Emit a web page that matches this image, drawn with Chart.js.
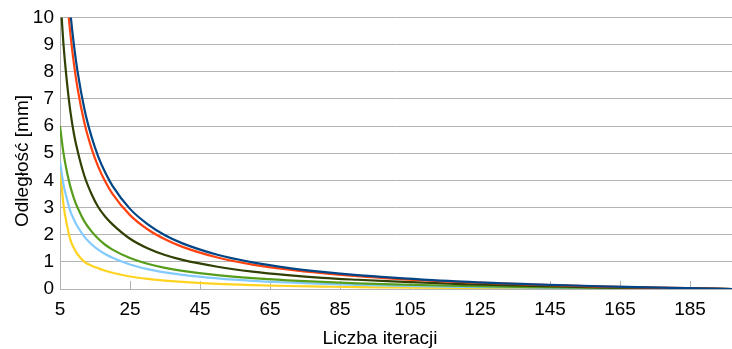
<!DOCTYPE html>
<html>
<head>
<meta charset="utf-8">
<script src="https://cdn.jsdelivr.net/npm/chart.js@4.4.0/dist/chart.umd.min.js"></script>
<style>
html, body { margin: 0; padding: 0; background: #fff; }
</style>
</head>
<body>
<canvas id="odleglosc" width="732" height="349"></canvas>
<script>
// numer iteracji (os X)
var iterations = [5, 6, 7, 8, 9, 10, 12, 14, 16, 18, 20, 25, 30, 35, 40, 50, 60, 70, 80, 90, 100, 120, 140, 160, 180, 197];

// odleglosc [mm] dla kazdej serii
var seriesBlue = [16.5, 13.65, 11.64, 10.13, 8.96, 8.02, 6.61, 5.61, 4.85, 4.27, 3.8, 2.95, 2.39, 1.98, 1.68, 1.26, 0.98, 0.78, 0.63, 0.51, 0.42, 0.27, 0.17, 0.1, 0.04, 0];
var seriesRed = [15.2, 12.6, 10.75, 9.35, 8.27, 7.4, 6.1, 5.18, 4.48, 3.94, 3.5, 2.72, 2.2, 1.83, 1.55, 1.16, 0.9, 0.72, 0.58, 0.47, 0.38, 0.25, 0.16, 0.09, 0.04, 0];
var seriesOlive = [11.0, 9.0, 7.6, 6.5, 5.7, 5.1, 4.15, 3.5, 3.0, 2.65, 2.38, 1.85, 1.5, 1.25, 1.07, 0.82, 0.64, 0.51, 0.41, 0.34, 0.28, 0.18, 0.11, 0.06, 0.03, 0];
var seriesGreen = [6.0, 5.0, 4.3, 3.75, 3.33, 3.0, 2.48, 2.12, 1.84, 1.62, 1.45, 1.14, 0.93, 0.78, 0.67, 0.51, 0.4, 0.32, 0.26, 0.21, 0.17, 0.11, 0.07, 0.04, 0.02, 0];
var seriesLightBlue = [4.7, 3.85, 3.3, 2.85, 2.55, 2.3, 1.92, 1.65, 1.44, 1.28, 1.15, 0.9, 0.73, 0.61, 0.52, 0.39, 0.3, 0.24, 0.19, 0.15, 0.12, 0.08, 0.05, 0.03, 0.01, 0];
var seriesYellow = [4.45, 3.1, 2.35, 1.8, 1.5, 1.28, 1.0, 0.86, 0.76, 0.67, 0.6, 0.46, 0.37, 0.31, 0.26, 0.19, 0.14, 0.11, 0.09, 0.07, 0.06, 0.04, 0.03, 0.02, 0.01, 0];

var xTicks = [5, 25, 45, 65, 85, 105, 125, 145, 165, 185];
var yTicks = [0, 1, 2, 3, 4, 5, 6, 7, 8, 9, 10];

var xTitle = "Liczba iteracji";
var yTitle = "Odległość [mm]";

Chart.defaults.font.family = '"Liberation Sans", Arial, sans-serif';
Chart.defaults.color = '#000';

function points(values) {
    return iterations.map(function (x, i) { return { x: x, y: values[i] }; });
}

function line(values, color) {
    return {
        data: points(values),
        borderColor: color,
        backgroundColor: color,
        borderWidth: 2.2,
        pointRadius: 0,
        fill: false,
        cubicInterpolationMode: 'monotone'
    };
}

// krotkie znaczniki na osi X skierowane do srodka wykresu
var innerTicks = {
    id: 'innerTicks',
    beforeDatasetsDraw: function (chart) {
        var ctx = chart.ctx;
        var x = chart.scales.x;
        var bottom = chart.chartArea.bottom;
        ctx.save();
        ctx.strokeStyle = '#b3b3b3';
        ctx.lineWidth = 1;
        xTicks.forEach(function (v) {
            var px = Math.round(x.getPixelForValue(v)) + 0.5;
            ctx.beginPath();
            ctx.moveTo(px, bottom);
            ctx.lineTo(px, bottom - 8);
            ctx.stroke();
        });
        ctx.restore();
    }
};

var axisTitles = {
    id: 'axisTitles',
    afterDraw: function (chart) {
        var ctx = chart.ctx;
        ctx.save();
        ctx.fillStyle = '#000';
        ctx.font = '19px "Liberation Sans", Arial, sans-serif';
        ctx.textAlign = 'center';
        ctx.textBaseline = 'middle';
        ctx.fillText(xTitle, 380, 339);
        ctx.translate(23, 161);
        ctx.rotate(-Math.PI / 2);
        ctx.fillText(yTitle, 0, 0);
        ctx.restore();
    }
};

new Chart(document.getElementById("odleglosc"), {
    type: 'line',
    data: {
        datasets: [
            line(seriesBlue, '#004586'),
            line(seriesRed, '#ff420e'),
            line(seriesOlive, '#314004'),
            line(seriesGreen, '#579d1c'),
            line(seriesLightBlue, '#83caff'),
            line(seriesYellow, '#ffd320')
        ]
    },
    options: {
        responsive: false,
        animation: false,
        layout: {
            padding: { top: 15, right: 0, bottom: 0, left: 0 }
        },
        plugins: {
            legend: { display: false },
            tooltip: { enabled: false }
        },
        scales: {
            x: {
                type: 'linear',
                min: 5,
                max: 197,
                afterBuildTicks: function (scale) {
                    scale.ticks = xTicks.map(function (v) { return { value: v }; });
                },
                afterFit: function (scale) { scale.height = 60; },
                grid: { drawOnChartArea: false, drawTicks: false },
                border: { color: '#b3b3b3', width: 1 },
                ticks: {
                    font: { size: 19 },
                    padding: 9,
                    maxRotation: 0,
                    autoSkip: false
                }
            },
            y: {
                min: 0,
                max: 10,
                afterBuildTicks: function (scale) {
                    scale.ticks = yTicks.map(function (v) { return { value: v }; });
                },
                afterFit: function (scale) { scale.width = 60; },
                grid: { color: '#b3b3b3', drawTicks: false },
                border: { color: '#b3b3b3', width: 1 },
                ticks: {
                    font: { size: 19 },
                    padding: 6
                }
            }
        }
    },
    plugins: [innerTicks, axisTitles]
});
</script>
</body>
</html>
